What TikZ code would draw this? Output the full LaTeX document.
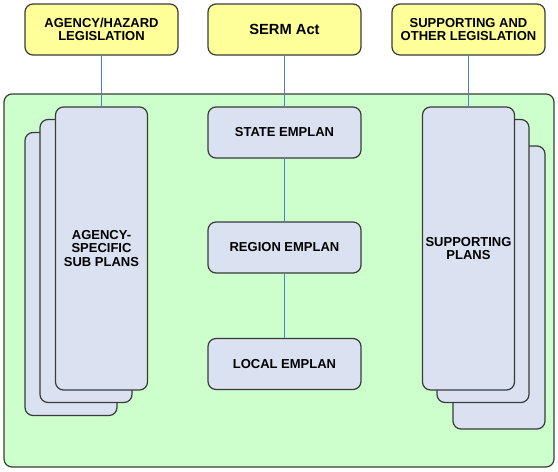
\documentclass[tikz,border=0pt]{standalone}
\usepackage{fontspec}
\setmainfont{Liberation Sans}
\usepackage{xcolor}
\usepackage{tikz}
\definecolor{legfill}{HTML}{FFFF99}
\definecolor{panelfill}{HTML}{CCFFCC}
\definecolor{planfill}{HTML}{DAE1F1}
\definecolor{edgecolor}{HTML}{3A3A3A}
\definecolor{linkcolor}{HTML}{4F7FC4}
\tikzset{
  leg/.style={draw=edgecolor, line width=1.2pt, rounded corners=8pt, fill=legfill, minimum height=51pt, minimum width=153pt, font=\fontsize{13}{13}\selectfont\bfseries, align=center, inner sep=2pt},
  panel/.style={draw=edgecolor, line width=1.2pt, rounded corners=8pt, fill=panelfill, minimum height=373pt, minimum width=550pt, inner sep=0pt},
  emp/.style={draw=edgecolor, line width=1.2pt, rounded corners=8pt, fill=planfill, minimum height=51pt, minimum width=153pt, font=\fontsize{13}{13.5}\selectfont\bfseries, align=center, inner sep=2pt},
  card/.style={draw=edgecolor, line width=1.2pt, rounded corners=8pt, fill=planfill, minimum height=283pt, minimum width=92pt, font=\fontsize{13}{13.5}\selectfont\bfseries, align=center, inner sep=2pt},
  link/.style={draw=linkcolor, line width=0.8pt},
}
\begin{document}
\begin{tikzpicture}[x=1pt, y=-1pt]
\useasboundingbox (0,0) rectangle (558,472);
\node[panel] (pnl) at (279,280.5) {};
% legislation row
\node[leg] (aleg) at (101.5,29.5) {AGENCY/HAZARD\\LEGISLATION};
\node[leg, font=\fontsize{14.7}{15}\selectfont\bfseries] (serm) at (284.5,29.5) {SERM Act};
\node[leg] (sleg) at (468.5,29.5) {SUPPORTING AND\\OTHER LEGISLATION};
% agency sub plans
\node[card] (asp3) at (71,274) {};
\node[card] (asp2) at (86,261) {};
\node[card] (asp1) at (101.5,248.5) {AGENCY-\\SPECIFIC\\SUB PLANS};
% supporting plans
\node[card] (spl3) at (499,287.5) {};
\node[card] (spl2) at (483,261) {};
\node[card] (spl1) at (468.5,248.5) {SUPPORTING\\PLANS};
% emplans
\node[emp] (state) at (284.5,132.5) {STATE EMPLAN};
\node[emp] (region) at (284.5,247.5) {REGION EMPLAN};
\node[emp] (local) at (284.5,364) {LOCAL EMPLAN};
\draw[link] (aleg.south) -- (asp1.north);
\draw[link] (serm.south) -- (state.north);
\draw[link] (sleg.south) -- (spl1.north);
\draw[link] (state.south) -- (region.north);
\draw[link] (region.south) -- (local.north);
\end{tikzpicture}
\end{document}
